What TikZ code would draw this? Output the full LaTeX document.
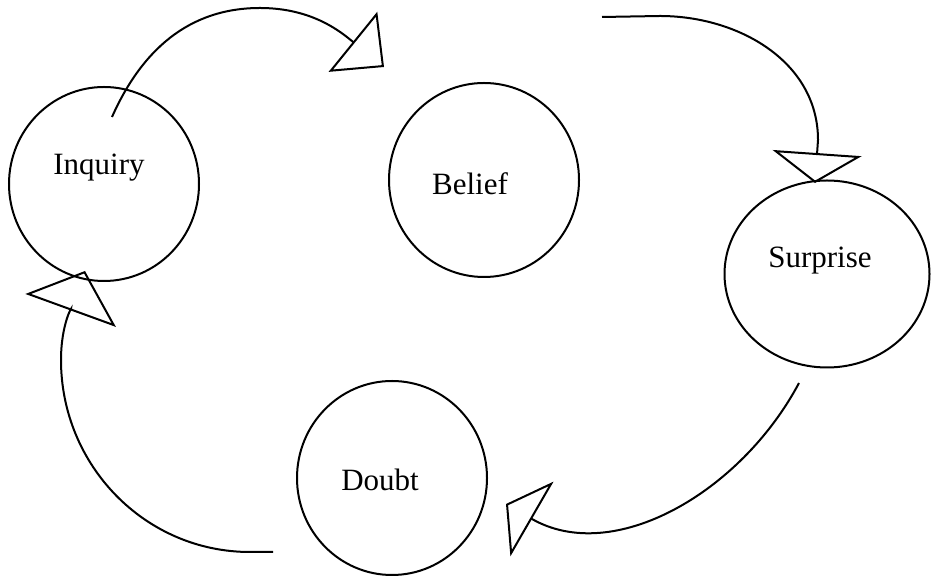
\documentclass[tikz,border=0pt]{standalone}
\usepackage{fontspec}
\setmainfont{Liberation Serif}
\usetikzlibrary{arrows.meta,shapes.geometric}

\begin{document}
\begin{tikzpicture}[x=1pt,y=1pt,
      stage/.style={ellipse,draw,line width=2pt,minimum width=190pt,minimum height=194pt,inner sep=0pt},
      word/.style={anchor=base,font=\fontsize{31}{36}\selectfont,inner sep=0pt},
      cyc/.style={line width=2pt}]
    \useasboundingbox (0,0) rectangle (931,577);
    % stages of the cycle
    \node[stage] (inq) at (104,393) {};
    \node[stage] (bel) at (484,397) {};
    \node[stage,minimum width=205pt,minimum height=187pt] (sur) at (827,303) {};
    \node[stage] (dou) at (392,99) {};
    % labels
    \node[word] (inqtxt) at (99,402) {Inquiry};
    \node[word] (beltxt) at (470,382) {Belief};
    \node[word] (surtxt) at (820,309) {Surprise};
    \node[word] (doutxt) at (380,86) {Doubt};
    % free ends of the arrows
    \coordinate (i1) at (112,460);
    \coordinate (i2) at (260,569);
    \coordinate (i3) at (384,510);
    \coordinate (b1) at (602,560);
    \coordinate (b2) at (660,561);
    \coordinate (b3) at (818,437);
    \coordinate (b4) at (815,394);
    \coordinate (s1) at (799,194);
    \coordinate (s2) at (506,73);
    \coordinate (d1) at (273,25);
    \coordinate (d2) at (250,25);
    \coordinate (d3) at (61,217);
    \coordinate (d4) at (85,306);
    % arrows
    \draw[cyc,-{Triangle[open,length=40pt,width=77pt]}] (i1) to[out=66,in=180] (i2) to[out=0,in=141] (i3);
    \draw[cyc,-{Triangle[open,length=30pt,width=89pt]}] (b1) -- (b2) to[out=0,in=90] (b3) -- (b4);
    \draw[cyc,-{Triangle[open,length=30pt,width=86pt]}] (s1) to[out=242,in=-30] (s2);
    \draw[cyc,-{Triangle[open,length=42pt,width=96pt]}] (d1) -- (d2) to[out=180,in=-90] (d3) to[out=90,in=-110] (d4);
  \end{tikzpicture}
\end{document}
